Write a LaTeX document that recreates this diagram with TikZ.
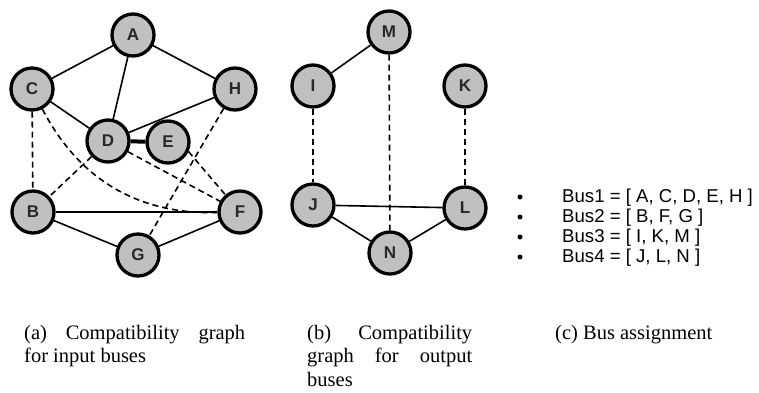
\documentclass[tikz,border=0pt]{standalone}
\usepackage{fontspec}
\setmainfont{Liberation Serif}
\newfontfamily\arialf{Liberation Sans}
\definecolor{vgray}{RGB}{192,192,192}
\definecolor{txtgray}{RGB}{40,40,40}
\tikzset{
  vtx/.style={circle, draw=black, line width=3.3pt, fill=vgray, minimum size=42pt, inner sep=0pt,
    font=\arialf\bfseries\fontsize{17}{20}\selectfont, text=txtgray},
  sol/.style={line width=1.6pt},
  dsh/.style={line width=1.6pt, dash pattern=on 6pt off 4pt},
  thk/.style={line width=4pt},
  captxt/.style={inner sep=0pt, align=justify, font=\fontsize{20.5}{23.5}\selectfont},
  bus/.style={inner sep=0pt, font=\arialf\fontsize{18.6}{20}\selectfont},
  dot/.style={circle, fill=black, minimum size=5pt, inner sep=0pt},
}
\begin{document}
\begin{tikzpicture}[x=1pt,y=-1pt]
\useasboundingbox (0,0) rectangle (759,392);
% panel (a)
\node[vtx] (A) at (133,35) {A};
\node[vtx] (C) at (32,89) {C};
\node[vtx] (H) at (235,89) {H};
\node[vtx] (D) at (108,141) {D};
\node[vtx] (E) at (168,142) {E};
\node[vtx] (B) at (33,212) {B};
\node[vtx] (F) at (240,212) {F};
\node[vtx] (G) at (138,255) {G};
\draw[sol] (A) -- (C);
\draw[sol] (A) -- (H);
\draw[sol] (A) -- (D);
\draw[sol] (C) -- (D);
\draw[sol] (D) -- (H);
\draw[thk] (D) -- (E);
\draw[sol] (B) -- (F);
\draw[sol] (B) -- (G);
\draw[sol] (G) -- (F);
\draw[dsh] (C) -- (B);
\draw[dsh] (D) -- (B);
\draw[dsh] (D) -- (F);
\draw[dsh] (E.-25) -- (F);
\draw[dsh] (H) -- (G);
\draw[dsh] (C) to[bend right=32] (F);
% panel (b)
\node[vtx] (M) at (389,32) {M};
\node[vtx] (I) at (313,86) {I};
\node[vtx] (K) at (465,86) {K};
\node[vtx] (J) at (313,205) {J};
\node[vtx] (L) at (465,208) {L};
\node[vtx] (N) at (390,253) {N};
\draw[sol] (M) -- (I);
\draw[dsh] (M) -- (N);
\draw[dsh] (I) -- (J);
\draw[dsh] (K) -- (L);
\draw[sol] (J) -- (L);
\draw[sol] (J) -- (N);
\draw[sol] (N) -- (L);
% panel (c)
\node[dot] (d1) at (520,197) {};
\node[dot] (d2) at (520,217) {};
\node[dot] (d3) at (520,237) {};
\node[dot] (d4) at (520,257) {};
\node[bus, anchor=base west] (b1) at (562,202) {Bus1 = [ A, C, D, E, H ]};
\node[bus, anchor=base west] (b2) at (562,222) {Bus2 = [ B, F, G ]};
\node[bus, anchor=base west] (b3) at (562,242) {Bus3 = [ I, K, M ]};
\node[bus, anchor=base west] (b4) at (562,262) {Bus4 = [ J, L, N ]};
% captions
\node[captxt, text width=221pt, anchor=base west] (capa) at (24,339) {(a) Compatibility graph\linebreak for input buses};
\node[captxt, text width=165pt, anchor=base west] (capb) at (307,339) {(b) Compatibility\linebreak graph for output\linebreak buses};
\node[captxt, anchor=base west] (capc) at (555,339) {(c) Bus assignment};
\end{tikzpicture}
\end{document}
